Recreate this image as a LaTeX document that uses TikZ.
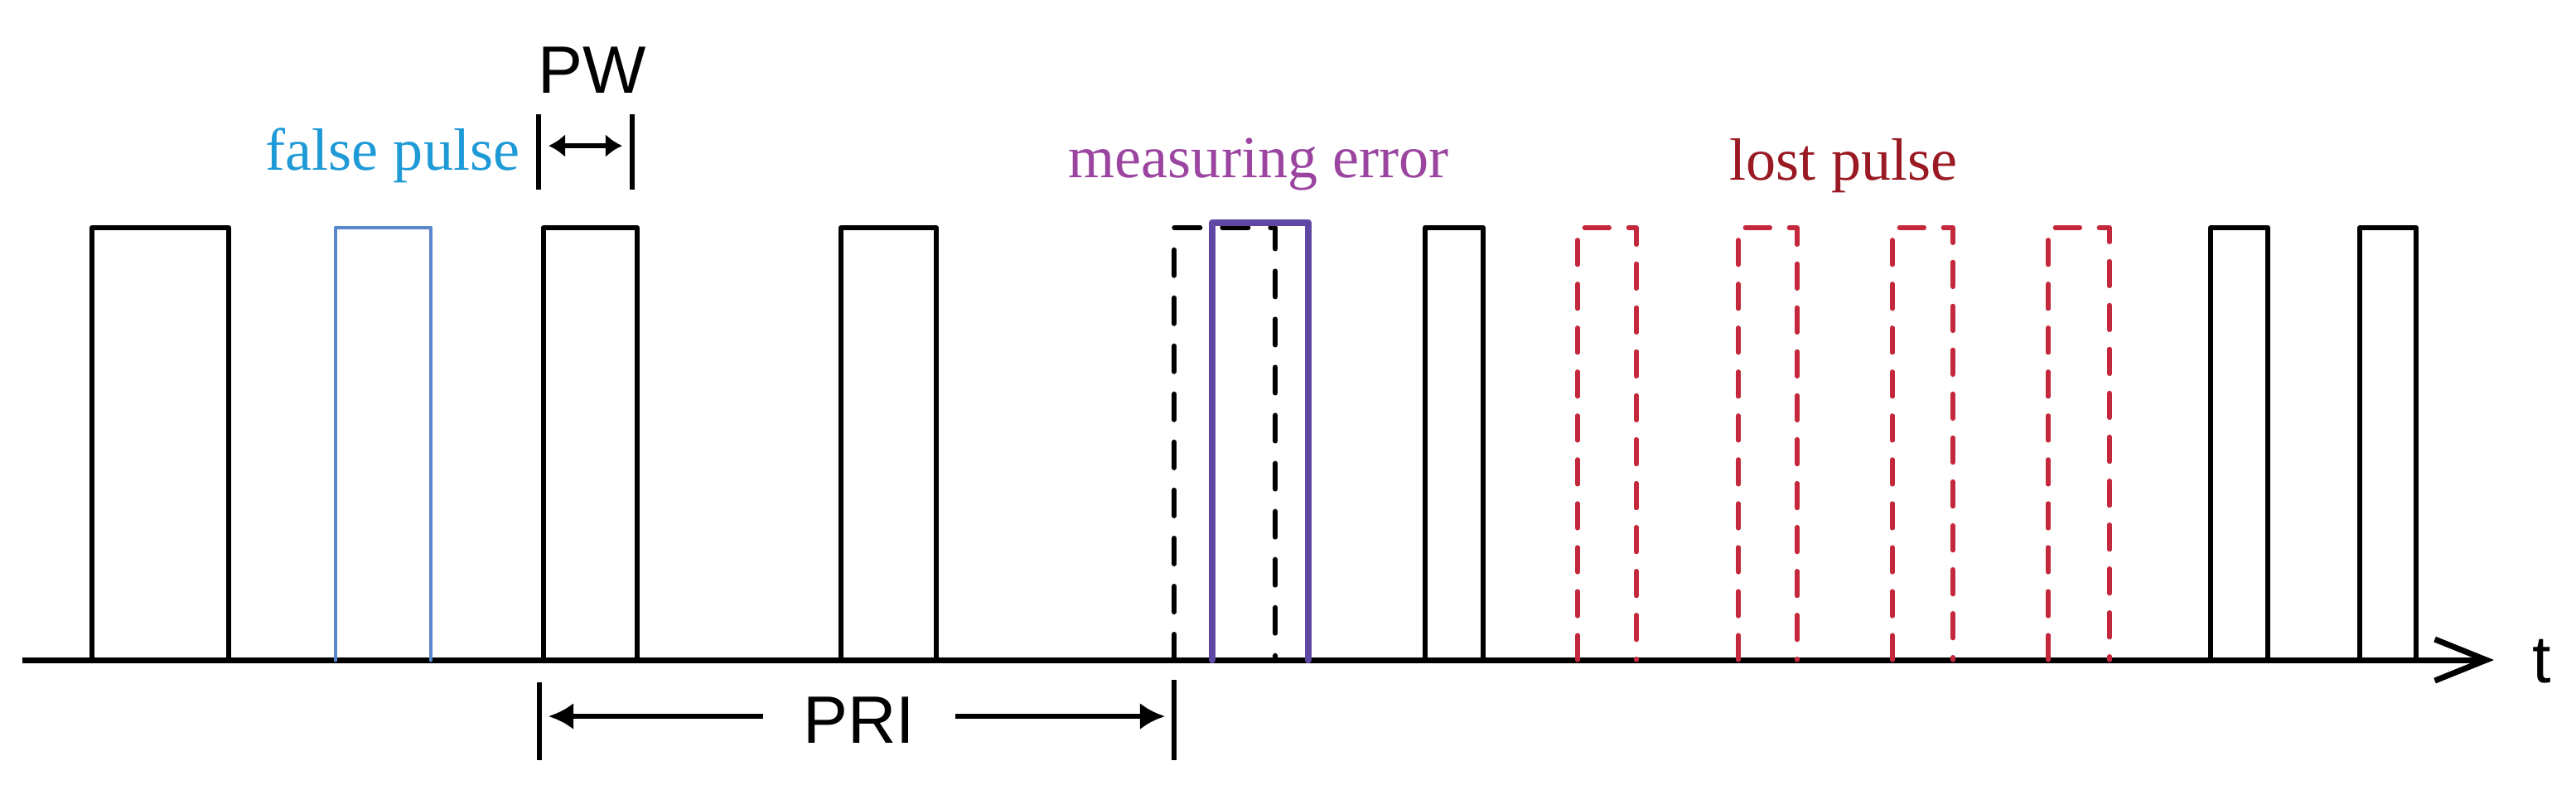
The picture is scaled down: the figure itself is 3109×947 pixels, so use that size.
\documentclass[tikz,border=0pt]{standalone}
\usepackage{fontspec}
\setmainfont{Liberation Serif}
\setsansfont{Liberation Sans}
\usetikzlibrary{arrows.meta}
\definecolor{fblue}{HTML}{1E9AD6}
\definecolor{pblue}{HTML}{5A87CC}
\definecolor{mtext}{HTML}{9B45A0}
\definecolor{mbox}{HTML}{5E48A4}
\definecolor{ltext}{HTML}{9A1A24}
\definecolor{lred}{HTML}{C4283C}
\begin{document}
\begin{tikzpicture}[x=0.01cm,y=-0.01cm,
  pulse/.style={line width=1.7pt, line join=round, line cap=round},
  falsepulse/.style={pulse, pblue, line width=1.4pt},
  measpulse/.style={pulse, mbox, line width=2.3pt},
  ghost/.style={pulse, dash pattern=on 0.31cm off 0.27cm},
  lostp/.style={pulse, lred, line width=1.5pt, dash pattern=on 0.30cm off 0.23cm},
  axisline/.style={line width=2pt, -{Straight Barb[length=0.62cm,width=0.5cm,line width=2pt]}},
  tick/.style={line width=1.6pt},
  pwarr/.style={line width=1.7pt, {Latex[length=0.2cm,width=0.28cm]}-{Latex[length=0.2cm,width=0.28cm]}, shorten <=0.12cm, shorten >=0.12cm},
  priarr/.style={line width=1.6pt, -{Latex[length=0.3cm,width=0.32cm]}, shorten <=0.48cm, shorten >=0.11cm},
  sanslabel/.style={font=\sffamily\fontsize{23}{27}\selectfont, inner sep=0, anchor=base},
  seriflabel/.style={font=\rmfamily\fontsize{20.5}{24}\selectfont, inner sep=0, anchor=base}]
\useasboundingbox (0,0) rectangle (3109,947);

% axis
\coordinate (o) at (27,797);
\coordinate (tend) at (3010,797);
\draw[axisline] (o) -- (tend);
\node[sanslabel] (t) at (3068,824) {t};

% normal pulses
\foreach \a/\b in {111/276, 656/769, 1015/1130, 1720/1790, 2668/2737, 2848/2916}
  \draw[pulse] (\a,797) |- (\b,275) -- (\b,797);

% false pulse
\draw[falsepulse] (405,797) |- (520,275) -- (520,797);

% expected (ghost) pulse and measured pulse
\draw[ghost] (1417,797) |- (1539,275) -- (1539,797);
\draw[measpulse] (1463,797) |- (1579,269) -- (1579,797);

% lost pulses
\foreach \a/\b in {1904/1975, 2098/2169, 2284/2357, 2472/2546}
  \draw[lostp] (\a,797) |- (\b,275) -- (\b,797);

% labels
\node[seriflabel, text=fblue] (fp) at (474,205) {false pulse};
\node[seriflabel, text=mtext] (me) at (1519,214) {measuring error};
\node[seriflabel, text=ltext] (lp) at (2225,217) {lost pulse};

% PW
\node[sanslabel] (pw) at (715,112) {PW};
\coordinate (pwLt) at (650,138); \coordinate (pwLb) at (650,229);
\coordinate (pwRt) at (763,138); \coordinate (pwRb) at (763,229);
\coordinate (pwL) at (650,176); \coordinate (pwR) at (763,176);
\draw[tick] (pwLt) -- (pwLb);
\draw[tick] (pwRt) -- (pwRb);
\draw[pwarr] (pwL) -- (pwR);

% PRI
\node[sanslabel] (pri) at (1037,897) {PRI};
\coordinate (priLt) at (651,824); \coordinate (priLb) at (651,918);
\coordinate (priRt) at (1417,821); \coordinate (priRb) at (1417,918);
\coordinate (priL) at (651,865); \coordinate (priR) at (1417,865);
\draw[tick] (priLt) -- (priLb);
\draw[tick] (priRt) -- (priRb);
\draw[priarr] (pri.west |- priL) -- (priL);
\draw[priarr] (pri.east |- priR) -- (priR);
\end{tikzpicture}
\end{document}
